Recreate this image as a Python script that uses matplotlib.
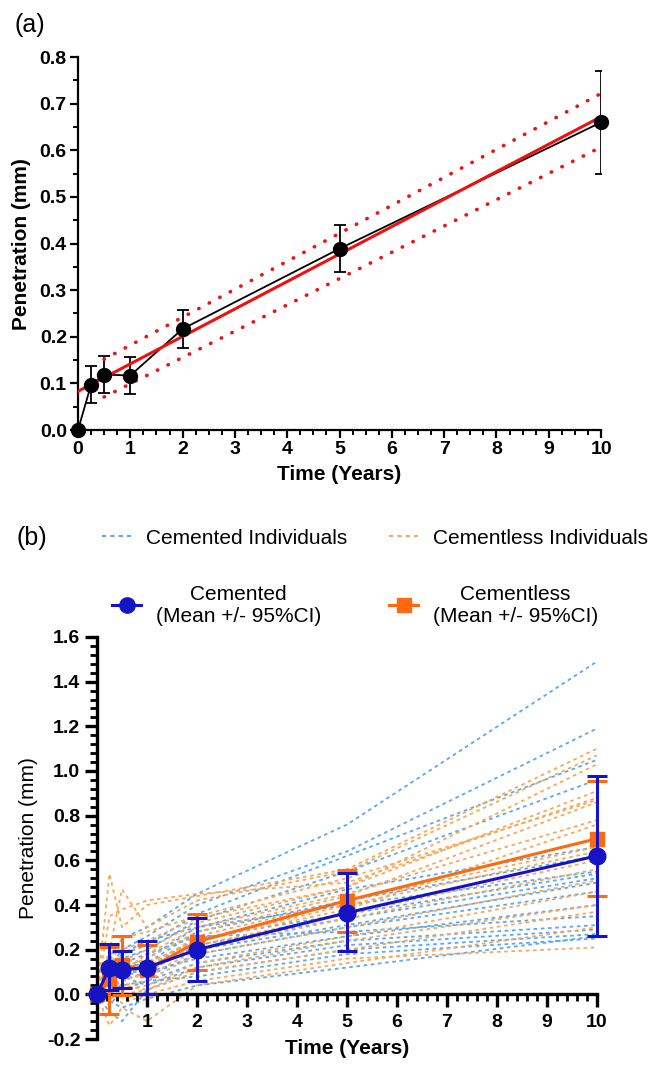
import numpy as np
import matplotlib
matplotlib.use('Agg')
import matplotlib.pyplot as plt
from matplotlib.lines import Line2D
from matplotlib.ticker import MultipleLocator, FixedLocator

plt.rcParams['font.family'] = ['Liberation Sans', 'DejaVu Sans']

# ---- panel (a) data ----
time_a = [0, 0.25, 0.5, 1, 2, 5, 10]
pen_a = [0.0, 0.097, 0.119, 0.117, 0.217, 0.389, 0.660]
err_a = [0.0, 0.040, 0.040, 0.040, 0.040, 0.050, 0.110]
fit_x = [0, 10]
fit_y = [0.083, 0.672]
ci_x = [0.5, 10]
ci_upper = [0.152, 0.722]
ci_lower = [0.071, 0.607]

# ---- panel (b) data ----
time_b = [0, 0.25, 0.5, 1, 2, 5, 10]
cem_mean = [0.0, 0.12, 0.11, 0.12, 0.20, 0.365, 0.62]
cem_low = [0.0, 0.02, 0.03, 0.00, 0.06, 0.195, 0.26]
cem_high = [0.0, 0.225, 0.195, 0.24, 0.34, 0.545, 0.978]
cl_mean = [0.0, 0.07, 0.13, 0.11, 0.235, 0.42, 0.697]
cl_low = [0.0, -0.09, -0.005, 0.0, 0.11, 0.28, 0.44]
cl_high = [0.0, 0.21, 0.26, 0.22, 0.36, 0.555, 0.956]

# individual patients (cemented)
cem_ind = [
    [0, 0.15, 0.25, 0.30, 0.45, 0.76, 1.49],
    [0, 0.12, 0.20, 0.26, 0.40, 0.64, 1.19],
    [0, 0.10, 0.18, 0.22, 0.36, 0.62, 1.05],
    [0, 0.14, 0.16, 0.20, 0.33, 0.55, 0.96],
    [0, 0.20, 0.18, 0.24, 0.30, 0.47, 0.66],
    [0, 0.08, 0.12, 0.14, 0.28, 0.42, 0.62],
    [0, 0.10, 0.10, 0.16, 0.30, 0.40, 0.55],
    [0, 0.06, 0.08, 0.12, 0.25, 0.36, 0.54],
    [0, 0.16, 0.12, 0.10, 0.22, 0.34, 0.52],
    [0, 0.05, 0.09, 0.12, 0.20, 0.31, 0.50],
    [0, 0.12, 0.10, 0.08, 0.18, 0.30, 0.46],
    [0, 0.04, 0.06, 0.10, 0.16, 0.26, 0.40],
    [0, -0.05, 0.02, 0.06, 0.14, 0.24, 0.31],
    [0, 0.18, 0.08, 0.04, 0.12, 0.22, 0.29],
    [0, -0.08, -0.12, 0.02, 0.10, 0.20, 0.27],
    [0, 0.02, 0.04, 0.06, 0.08, 0.18, 0.25],
    [0, -0.03, -0.06, -0.02, 0.04, 0.12, 0.26],
    [0, 0.08, 0.14, 0.18, 0.26, 0.28, 0.35],
]
# individual patients (cementless)
cl_ind = [
    [0, 0.54, 0.30, 0.40, 0.44, 0.56, 1.10],
    [0, 0.20, 0.47, 0.30, 0.42, 0.55, 1.07],
    [0, 0.35, 0.38, 0.42, 0.45, 0.50, 0.88],
    [0, 0.12, 0.25, 0.28, 0.35, 0.52, 0.87],
    [0, 0.10, 0.15, 0.20, 0.32, 0.48, 0.91],
    [0, 0.18, 0.20, 0.24, 0.34, 0.48, 1.03],
    [0, 0.08, 0.10, 0.18, 0.30, 0.45, 0.78],
    [0, 0.14, 0.12, 0.16, 0.28, 0.44, 0.86],
    [0, 0.05, 0.10, 0.12, 0.26, 0.42, 0.66],
    [0, 0.10, 0.16, 0.14, 0.24, 0.40, 0.64],
    [0, 0.02, 0.06, 0.10, 0.22, 0.36, 0.60],
    [0, 0.12, 0.08, 0.08, 0.20, 0.34, 0.56],
    [0, 0.06, 0.04, 0.06, 0.18, 0.30, 0.51],
    [0, 0.04, 0.02, 0.04, 0.14, 0.26, 0.46],
    [0, -0.02, 0.00, 0.02, 0.12, 0.24, 0.40],
    [0, 0.08, 0.04, 0.02, 0.10, 0.20, 0.37],
    [0, -0.14, -0.06, -0.12, 0.04, 0.14, 0.30],
    [0, 0.02, -0.04, 0.00, 0.06, 0.16, 0.21],
    [0, 0.16, 0.10, 0.14, 0.24, 0.38, 0.76],
]

BLUE = '#1414c4'
ORANGE = '#ff6a0e'
LBLUE = '#5aa8f2'
LORANGE = '#f8a85a'

fig = plt.figure(figsize=(6.63, 10.65), dpi=100)

# ================= panel (a) =================
ax = fig.add_axes([0.1176, 0.5962, 0.789, 0.3502])
ax.plot(time_a, pen_a, color='black', lw=1.3, zorder=3, clip_on=False)
ax.errorbar(time_a[1:], pen_a[1:], yerr=err_a[1:], fmt='none', ecolor='black',
            elinewidth=1.3, capsize=4, capthick=1.3, zorder=3)
ax.plot(time_a, pen_a, 'o', color='black', ms=10, zorder=5, clip_on=False)
ax.plot(fit_x, fit_y, color='#ee1111', lw=2.2, zorder=4)
for ci in (ci_upper, ci_lower):
    ax.plot(ci_x, ci, color='#ee1111', lw=2.6, linestyle=(0, (0.1, 3.2)),
            dash_capstyle='round', zorder=4)

ax.set_xlim(0, 10)
ax.set_ylim(0, 0.8)
ax.xaxis.set_major_locator(MultipleLocator(1))
ax.xaxis.set_minor_locator(MultipleLocator(0.25))
ax.yaxis.set_major_locator(MultipleLocator(0.1))
ax.yaxis.set_minor_locator(MultipleLocator(0.05))
ax.yaxis.set_major_formatter(plt.FormatStrFormatter('%.1f'))
for s in ('top', 'right'):
    ax.spines[s].set_visible(False)
for s in ('left', 'bottom'):
    ax.spines[s].set_linewidth(1.6)
ax.tick_params(which='major', length=6, width=1.6, labelsize=14, pad=2)
ax.tick_params(which='minor', length=3.5, width=1.4)
for lab in ax.get_xticklabels() + ax.get_yticklabels():
    lab.set_fontweight('bold')
ax.set_xlabel('Time (Years)', fontsize=15, fontweight='bold', labelpad=5)
ax.set_ylabel('Penetration (mm)', fontsize=15, fontweight='bold', labelpad=6)
fig.text(0.022, 1 - 25 / 1065, '(a)', fontsize=18, va='center')

# ================= panel (b) =================
bx = fig.add_axes([0.1463, 0.0244, 0.754, 0.3775])
for ind in cem_ind:
    bx.plot(time_b, ind, color=LBLUE, lw=1.3, linestyle=(0, (2, 2)), zorder=1, clip_on=False)
for ind in cl_ind:
    bx.plot(time_b, ind, color=LORANGE, lw=1.3, linestyle=(0, (2, 2)), zorder=1, clip_on=False)

cl_err = [np.array(cl_mean) - np.array(cl_low), np.array(cl_high) - np.array(cl_mean)]
cem_err = [np.array(cem_mean) - np.array(cem_low), np.array(cem_high) - np.array(cem_mean)]
bx.errorbar(time_b, cl_mean, yerr=cl_err, color=ORANGE, lw=2.2, marker='s', ms=10,
            elinewidth=2.2, capsize=7, capthick=2.2, zorder=4, clip_on=False)
bx.errorbar(time_b, cem_mean, yerr=cem_err, color=BLUE, lw=2.2, marker='o', ms=12,
            elinewidth=2.2, capsize=7, capthick=2.2, zorder=5, clip_on=False)

bx.set_xlim(0, 10)
bx.set_ylim(-0.2, 1.6)
bx.xaxis.set_major_locator(FixedLocator([1, 2, 3, 4, 5, 6, 7, 8, 9, 10]))
bx.xaxis.set_minor_locator(MultipleLocator(0.2))
bx.yaxis.set_major_locator(MultipleLocator(0.2))
bx.yaxis.set_minor_locator(MultipleLocator(0.04))
bx.yaxis.set_major_formatter(plt.FormatStrFormatter('%.1f'))
bx.spines['bottom'].set_position(('data', 0))
for s in ('top', 'right'):
    bx.spines[s].set_visible(False)
for s in ('left', 'bottom'):
    bx.spines[s].set_linewidth(2.4)
bx.tick_params(which='major', length=9, width=2.4, labelsize=14, pad=3)
bx.tick_params(which='minor', length=5, width=2.0)
bx.tick_params(axis='x', which='major', pad=5)
for lab in bx.get_xticklabels() + bx.get_yticklabels():
    lab.set_fontweight('bold')
bx.set_xlabel('Time (Years)', fontsize=15, fontweight='bold', labelpad=6)
bx.set_ylabel('Penetration (mm)', fontsize=15, labelpad=6)
fig.text(0.025, 1 - 538 / 1065, '(b)', fontsize=18, va='center')

# legends
leg_kw = dict(loc='center left', frameon=False, fontsize=15, borderpad=0,
              borderaxespad=0, handlelength=1.4, handletextpad=0.7)
h_ci = Line2D([], [], color=LBLUE, lw=1.5, linestyle=(0, (2, 2)))
h_cli = Line2D([], [], color=LORANGE, lw=1.5, linestyle=(0, (2, 2)))
fig.legend([h_ci], ['Cemented Individuals'], bbox_to_anchor=(102 / 663, 1 - 538 / 1065), **leg_kw)
fig.legend([h_cli], ['Cementless Individuals'], bbox_to_anchor=(389 / 663, 1 - 538 / 1065), **leg_kw)
h_cm = Line2D([], [], color=BLUE, lw=2.2, marker='o', ms=11)
h_clm = Line2D([], [], color=ORANGE, lw=2.2, marker='s', ms=10)
for h, txt, x0 in ((h_cm, 'Cemented\n(Mean +/- 95%CI)', 112),
                   (h_clm, 'Cementless\n(Mean +/- 95%CI)', 389)):
    lg = fig.legend([h], [txt], bbox_to_anchor=(x0 / 663, 1 - 605 / 1065), **leg_kw)
    for t in lg.get_texts():
        t.set_multialignment('center')

fig.savefig('out.png', dpi=100)
